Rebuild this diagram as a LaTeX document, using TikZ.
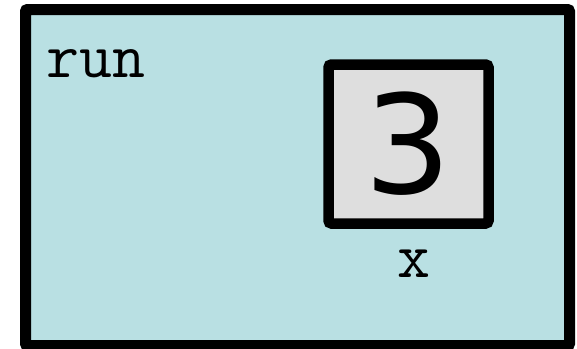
\documentclass[tikz,border=0pt]{standalone}
\usepackage{fontspec}
\newfontfamily\valfont{DejaVu Sans}
\usetikzlibrary{positioning}
\colorlet{Cframe}{rgb,255:red,185;green,224;blue,227}
\colorlet{Ccell}{black!13}
\tikzset{
  framebox/.style={draw=black, fill=Cframe, line width=11pt, rounded corners=2pt,
    inner sep=0pt, minimum width=544pt, minimum height=336pt},
  cellbox/.style={draw=black, fill=Ccell, line width=10.5pt, rounded corners=3pt,
    inner sep=0pt, minimum width=160pt, minimum height=159pt, font=\valfont\fontsize{137}{137}\selectfont},
  codelabel/.style={font=\ttfamily\fontsize{64}{64}\selectfont, inner sep=0pt},
}

\begin{document}
\begin{tikzpicture}[x=1pt, y=-1pt]
\useasboundingbox (0,0) rectangle (577,348);
\clip (0,0) rectangle (577,348);

%% frame of the call
\node[framebox] (frame) at (297.5,177.5) {};
\node[codelabel, anchor=base west] (name) at (46,77) {run};

%% variable cell
\node[cellbox] (cell) at (408.5,144) {3};
\node[codelabel, anchor=base] (var) at (414,277) {x};

\end{tikzpicture}
\end{document}
